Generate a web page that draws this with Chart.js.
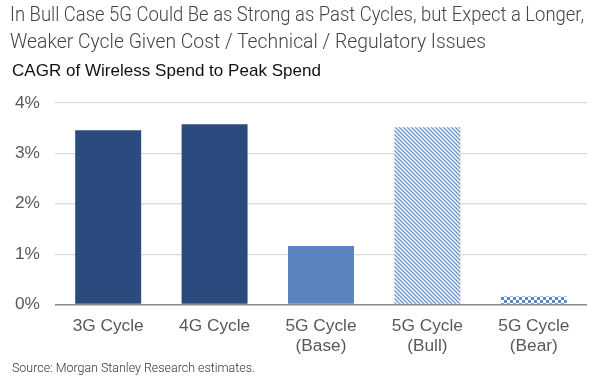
<!DOCTYPE html>
<html>
<head>
<meta charset="utf-8">
<script src="https://cdn.jsdelivr.net/npm/chart.js@4"></script>
<style>
  html, body { margin: 0; padding: 0; background: #fff; }
  #wrap { position: relative; width: 596px; height: 379px; overflow: hidden; }
  #chart { position: absolute; left: 0; top: 0; }
  .txt { position: absolute; white-space: nowrap; transform-origin: 0 0; }
  #t1, #t2 { font-family: Roboto, sans-serif; font-weight: 300; font-size: 20.5px; color: #444; left: 10px; }
  #t1 { top: 2px; }
  #t2 { top: 29px; }
  #sub { font-family: "Liberation Sans", Arial, sans-serif; font-size: 17px; color: #111; left: 12px; top: 61px; }
  #src { font-family: Roboto, sans-serif; font-weight: 300; font-size: 13px; color: #333; left: 12px; top: 360px; }
</style>
</head>
<body>
<div id="wrap">
  <canvas id="chart" width="596" height="379"></canvas>
  <div class="txt" id="t1">In Bull Case 5G Could Be as Strong as Past Cycles, but Expect a Longer,</div>
  <div class="txt" id="t2">Weaker Cycle Given Cost / Technical / Regulatory Issues</div>
  <div class="txt" id="sub">CAGR of Wireless Spend to Peak Spend</div>
  <div class="txt" id="src">Source: Morgan Stanley Research estimates.</div>
</div>
<script>
// data
const categories = [["3G Cycle"], ["4G Cycle"], ["5G Cycle", "(Base)"], ["5G Cycle", "(Bull)"], ["5G Cycle", "(Bear)"]];
const cagrValues = [3.46, 3.58, 1.16, 3.52, 0.16];
const yTicks = [0, 1, 2, 3, 4];

// fit the header lines to the width they take in the reference
function fitWidth(id, target) {
    const el = document.getElementById(id);
    const w = el.getBoundingClientRect().width;
    el.style.transform = 'scaleX(' + (target / w) + ')';
}
fitWidth('t1', 574);
fitWidth('t2', 476);
fitWidth('sub', 309);
fitWidth('src', 243);

function stripePattern(color) {
    const c = document.createElement('canvas');
    c.width = 4; c.height = 4;
    const g = c.getContext('2d');
    g.fillStyle = '#fff';
    g.fillRect(0, 0, 4, 4);
    g.strokeStyle = color;
    g.lineWidth = 1.4;
    g.beginPath();
    g.moveTo(-1, -1); g.lineTo(5, 5);
    g.moveTo(-1, 3); g.lineTo(1, 5);
    g.moveTo(3, -1); g.lineTo(5, 1);
    g.stroke();
    return g.createPattern(c, 'repeat');
}

function checkerPattern(color) {
    const c = document.createElement('canvas');
    c.width = 6; c.height = 6;
    const g = c.getContext('2d');
    g.fillStyle = '#fff';
    g.fillRect(0, 0, 6, 6);
    g.fillStyle = color;
    g.fillRect(0, 0, 3, 3);
    g.fillRect(3, 3, 3, 3);
    return g.createPattern(c, 'repeat');
}

const barColors = ['#2b4a7d', '#2b4a7d', '#5a84bf', stripePattern('#6e95cf'), checkerPattern('#5c87c6')];

const ctx = document.getElementById('chart').getContext('2d');
new Chart(ctx, {
    type: 'bar',
    data: {
        labels: categories,
        datasets: [{
            data: cagrValues,
            backgroundColor: barColors,
            borderWidth: 0,
            categoryPercentage: 1,
            barPercentage: 0.62
        }]
    },
    options: {
        responsive: false,
        animation: false,
        layout: { padding: { top: 103, bottom: 11, left: 0, right: 9 } },
        plugins: {
            legend: { display: false },
            tooltip: { enabled: false }
        },
        scales: {
            y: {
                min: 0,
                max: 4,
                afterBuildTicks: (axis) => { axis.ticks = yTicks.map(v => ({ value: v })); },
                ticks: {
                    callback: (v) => v + '%',
                    color: '#595959',
                    font: { family: 'Liberation Sans', size: 17.3 },
                    padding: 15
                },
                grid: {
                    color: (c) => c.tick && c.tick.value === 0 ? '#8c8c8c' : '#d9d9d9',
                    lineWidth: (c) => c.tick && c.tick.value === 0 ? 1.5 : 1.2,
                    drawTicks: false
                },
                border: { display: false }
            },
            x: {
                ticks: {
                    color: '#595959',
                    font: { family: 'Liberation Sans', size: 17.3 },
                    padding: 11,
                    maxRotation: 0
                },
                grid: { display: false, drawTicks: false },
                border: { display: false }
            }
        }
    }
});
</script>
</body>
</html>
